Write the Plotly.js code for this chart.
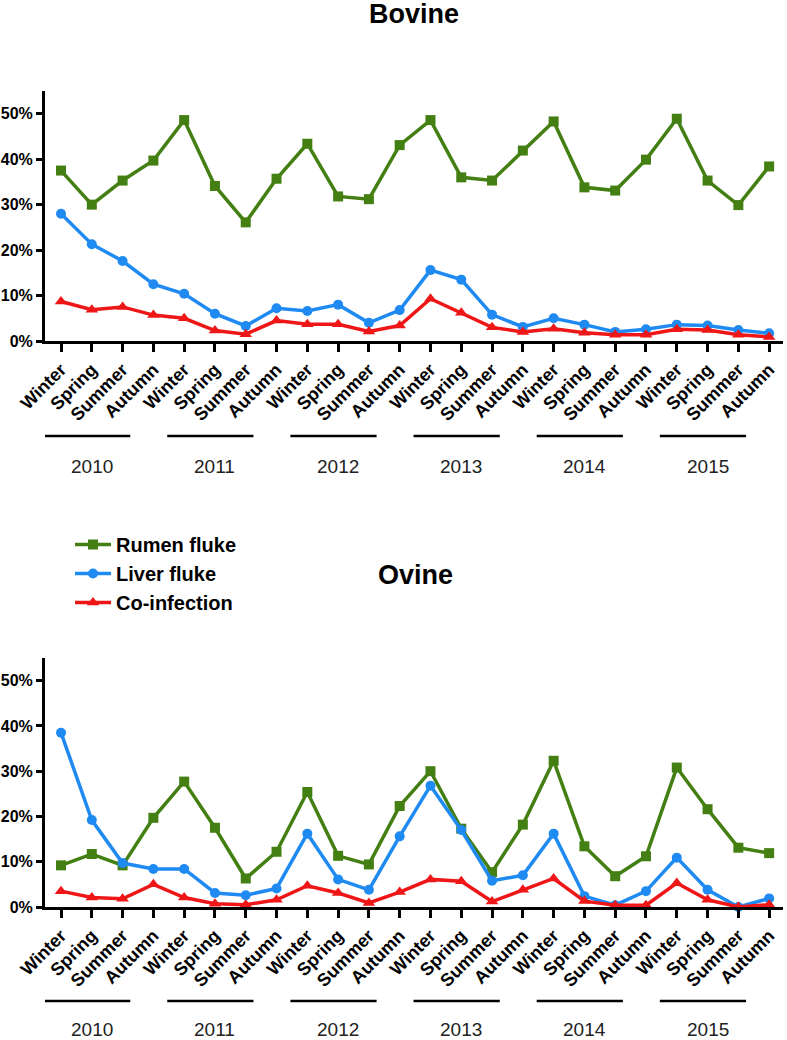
<!DOCTYPE html>
<html>
<head>
<meta charset="utf-8">
<script src="https://cdn.plot.ly/plotly-3.0.1.min.js"></script>
<style>html,body{margin:0;padding:0;background:#fff;}#chart{width:787px;height:1040px;}</style>
</head>
<body>
<div id="chart"></div>
<script>
const seasons = ["Winter","Spring","Summer","Autumn"];
const years = ["2010","2011","2012","2013","2014","2015"];
const seriesNames = ["Rumen fluke","Liver fluke","Co-infection"];
const yTickVals = [0,10,20,30,40,50];
const yTickText = ["0%","10%","20%","30%","40%","50%"];

// Bovine (%)
const bovineRumen = [37.5,30.0,35.3,39.7, 48.6,34.1,26.1,35.7, 43.4,31.8,31.2,43.1, 48.6,36.0,35.3,41.9, 48.3,33.8,33.1,39.9, 48.9,35.3,29.9,38.4];
const bovineLiver = [28.0,21.3,17.6,12.5, 10.4,6.0,3.3,7.2, 6.6,8.0,4.0,6.8, 15.6,13.5,5.8,3.1, 5.0,3.6,2.0,2.6, 3.6,3.4,2.4,1.7];
const bovineCo    = [8.7,6.9,7.5,5.7, 5.0,2.3,1.5,4.5, 3.7,3.7,2.1,3.4, 9.3,6.2,3.0,2.0, 2.7,1.8,1.4,1.4, 2.6,2.4,1.4,0.9];

// Ovine (%)
const ovineRumen = [9.2,11.7,9.2,19.7, 27.7,17.5,6.3,12.2, 25.4,11.3,9.4,22.3, 30.0,17.3,7.7,18.2, 32.3,13.4,6.8,11.2, 30.8,21.6,13.1,11.9];
const ovineLiver = [38.5,19.2,9.7,8.4, 8.4,3.1,2.6,4.1, 16.2,6.1,3.8,15.6, 26.8,17.0,5.8,7.0, 16.2,2.4,0.4,3.5, 10.9,3.8,0.0,1.9];
const ovineCo    = [3.5,2.1,1.8,5.0, 2.1,0.7,0.5,1.6, 4.7,3.1,0.9,3.3, 6.1,5.7,1.2,3.8, 6.3,1.3,0.4,0.4, 5.3,1.6,0.0,0.5];

const colors = ["#437f12","#1f8bf2","#ee1616"];
const symbols = ["square","circle","triangle-up"];

const catLabels = [];
years.forEach(() => seasons.forEach(s => catLabels.push(s)));
const xIdx = catLabels.map((_, i) => i);

const FONT = "Arial, 'Liberation Sans', Helvetica, sans-serif";

function mk(vals, k, xa, ya, show) {
  return {
    x: xIdx, y: vals, type: "scatter", mode: "lines+markers",
    name: seriesNames[k], xaxis: xa, yaxis: ya, showlegend: show,
    line: {color: colors[k], width: 3.5},
    marker: {color: colors[k], symbol: symbols[k], size: k === 2 ? 11 : 10},
    cliponaxis: false, hoverinfo: "skip"
  };
}

const data = [
  mk(bovineRumen, 0, "x", "y", true),
  mk(bovineLiver, 1, "x", "y", true),
  mk(bovineCo, 2, "x", "y", true),
  mk(ovineRumen, 0, "x2", "y2", false),
  mk(ovineLiver, 1, "x2", "y2", false),
  mk(ovineCo, 2, "x2", "y2", false)
];

const xCommon = {
  range: [-0.52, 23.45], tickmode: "array", tickvals: xIdx, ticktext: catLabels,
  tickangle: -45, ticks: "outside", ticklen: 8, tickwidth: 3, tickcolor: "#000",
  showline: true, linecolor: "#000", linewidth: 3, showgrid: false, zeroline: false,
  tickfont: {family: FONT, size: 18, color: "#000", weight: "bold"}, fixedrange: true
};
const yCommon = {
  range: [0, 55], tickmode: "array", tickvals: yTickVals, ticktext: yTickText,
  ticks: "outside", ticklen: 6, tickwidth: 3, tickcolor: "#000",
  showline: true, linecolor: "#000", linewidth: 3, showgrid: false, zeroline: false,
  tickfont: {family: FONT, size: 16, color: "#000", weight: "bold"}, fixedrange: true
};

const xDom = [45/787, 783/787];
const topDom = [1 - 341/1040, 1 - 91/1040];
const botDom = [1 - 907/1040, 1 - 658/1040];

const shapes = [];
const annotations = [];
[[1 - 436/1040, 1 - 467/1040, "x"], [1 - 1001/1040, 1 - 1029/1040, "x2"]].forEach(([ly, ty, xr]) => {
  years.forEach((yr, i) => {
    shapes.push({type: "line", xref: xr, yref: "paper", x0: 4*i - 0.55, x1: 4*i + 2.25, y0: ly, y1: ly,
      line: {color: "#000", width: 2.5}});
    annotations.push({text: yr, xref: xr, yref: "paper", x: 4*i + 1, y: ty, showarrow: false,
      xanchor: "center", yanchor: "middle", font: {family: FONT, size: 19, color: "#222"}});
  });
});
annotations.push({text: "Ovine", xref: "paper", yref: "paper", x: 415/787, y: 1 - 575/1040,
  showarrow: false, xanchor: "center", yanchor: "middle",
  font: {family: FONT, size: 27, color: "#000", weight: "bold"}});

const layout = {
  width: 787, height: 1040,
  margin: {l: 0, r: 0, t: 0, b: 0},
  paper_bgcolor: "#fff", plot_bgcolor: "#fff",
  title: {text: "Bovine", x: 414/787, xanchor: "center", y: 1 - 14/1040, yanchor: "middle",
    font: {family: FONT, size: 27, color: "#000", weight: "bold"}},
  xaxis: Object.assign({}, xCommon, {domain: xDom, anchor: "y"}),
  yaxis: Object.assign({}, yCommon, {domain: topDom, anchor: "x"}),
  xaxis2: Object.assign({}, xCommon, {domain: xDom, anchor: "y2"}),
  yaxis2: Object.assign({}, yCommon, {domain: botDom, anchor: "x2"}),
  showlegend: true,
  legend: {x: 70/787, y: 1 - 525/1040, xanchor: "left", yanchor: "top",
    font: {family: FONT, size: 20, color: "#000", weight: "bold"},
    bgcolor: "rgba(0,0,0,0)", tracegroupgap: 0, itemwidth: 36},
  shapes: shapes, annotations: annotations
};

Plotly.newPlot("chart", data, layout, {displayModeBar: false, staticPlot: true});
</script>
</body>
</html>
